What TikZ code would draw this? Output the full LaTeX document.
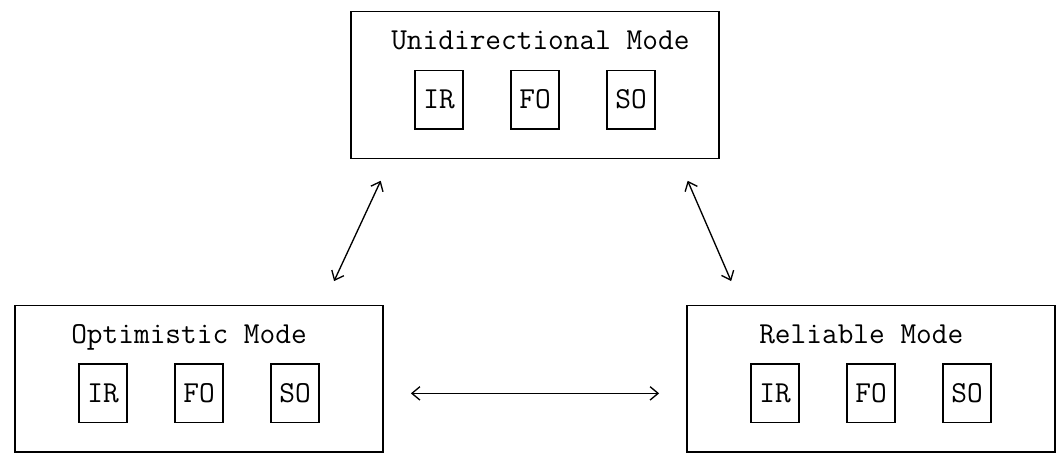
\documentclass[tikz,border=0pt]{standalone}
\usepackage{fontspec}
\usetikzlibrary{arrows.meta,positioning,calc}

\begin{document}
\begin{tikzpicture}[x=12pt,y=-22.03pt, % 1 unit = one character cell / one text line
  every node/.style={font=\ttfamily\fontsize{22.86}{26}\selectfont},
  modebox/.style={draw,line width=1pt,minimum width=276pt,minimum height=110.15pt,inner sep=0pt},
  subbox/.style={draw,line width=1pt,minimum width=36pt,minimum height=44.06pt,inner sep=0pt},
  modetitle/.style={anchor=base west,inner sep=0pt},
  link/.style={line width=1pt,{Straight Barb[length=6pt,width=10pt]}-{Straight Barb[length=6pt,width=10pt]}}]
  \useasboundingbox (-0.9375,-0.3916) rectangle (65.125,15.236);

  % ===== Mode boxes =====
  \node[modebox] (uni) at (32.5,2.5) {};    % top
  \node[modebox] (opt) at (11.5,12.5) {};   % bottom left
  \node[modebox] (rel) at (53.5,12.5) {};   % bottom right

  % --- Titles ---
  \node[modetitle] (unititle) at (23.5,1.3) {Unidirectional Mode};
  \node[modetitle] (opttitle) at (3.5,11.3) {Optimistic Mode};
  \node[modetitle] (reltitle) at (46.5,11.3) {Reliable Mode};

  % --- IR / FO / SO states in every mode ---
  \foreach \m/\c/\l in {uni/21/0,opt/0/10,rel/42/10} {
    \foreach \t [count=\i from 0] in {IR,FO,SO} {
      \node[subbox] (\m\t) at (\c+5.5+6*\i,\l+3) {\t};
    }
  }

  % ===== Transitions =====
  \draw[link] ([shift={(1.9,0.74)}]uni.south west) -- ([shift={(-3.1,-0.8)}]opt.north east);
  \draw[link] ([shift={(-2,0.74)}]uni.south east) -- ([shift={(2.8,-0.8)}]rel.north west);
  \draw[link] ([shift={(1.7,0.5)}]opt.east) -- ([shift={(-1.7,0.5)}]rel.west);
\end{tikzpicture}
\end{document}
